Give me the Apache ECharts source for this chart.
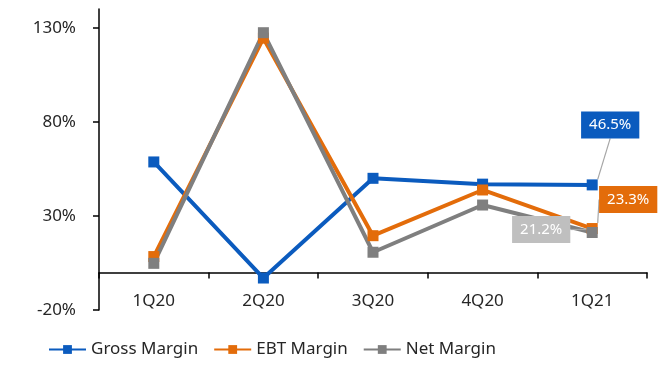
<!DOCTYPE html>
<html><head><meta charset="utf-8">
<script src="https://cdn.jsdelivr.net/npm/echarts@6/dist/echarts.min.js"></script>
<style>html,body{margin:0;padding:0;background:#fff}#c{width:661px;height:386px}</style>
</head><body><div id="c"></div>
<script>
const categories = ['1Q20','2Q20','3Q20','4Q20','1Q21'];
const grossMargin = [58.7, -3.0, 50.0, 46.9, 46.5];
const ebtMargin = [8.4, 124.5, 19.5, 43.8, 23.3];
const netMargin = [4.8, 127.4, 10.7, 35.8, 21.2];
const yTicks = [-20, 30, 80, 130];

const FONT = 'Noto Sans';
const blue = '#0B5BBE', orange = '#E36C0A', gray = '#7F7F7F';

function mkData(arr){
  return arr.map((v,i)=> i===arr.length-1 ? {value:v, label:{show:true}} : v);
}
function mkSeries(name, arr, color, labelBg, dx, dy){
  return {
    name, type:'line', data: mkData(arr),
    symbol:'rect', symbolSize: 11,
    lineStyle:{width:4, color},
    itemStyle:{color},
    label:{show:false, position:'inside', formatter: p => p.value.toFixed(1)+'%',
      backgroundColor: labelBg, color:'#fff', fontFamily:FONT, fontSize:15,
      padding:[5,8,4,8], lineHeight:18},
    labelLine:{show:true, lineStyle:{color:'#A6A6A6', width:1.2}},
    labelLayout: p => p.dataIndex === arr.length-1 ? {dx, dy} : {},
    emphasis:{disabled:true}, animation:false
  };
}

const chart = echarts.init(document.getElementById('c'));
chart.setOption({
  animation:false,
  grid:{left:99, right:14, top:9, bottom:76, containLabel:false},
  legend:{
    left:43, top:336, itemWidth:37, itemHeight:11, itemGap:15,
    textStyle:{fontFamily:FONT, fontSize:17, color:'#262626'},
    data:['Gross Margin','EBT Margin','Net Margin']
  },
  xAxis:{
    type:'category', data:categories, boundaryGap:true,
    axisLine:{onZero:true, lineStyle:{color:'#000', width:1.5}},
    axisTick:{show:true, length:6, lineStyle:{color:'#000', width:1.5}},
    axisLabel:{fontFamily:FONT, fontSize:17, color:'#262626', margin:-17}
  },
  yAxis:{
    type:'value', min:-20, max:140,
    splitLine:{show:false},
    axisLine:{show:true, onZero:false, lineStyle:{color:'#000', width:1.5}},
    axisTick:{show:true, length:6, customValues:yTicks, lineStyle:{color:'#000', width:1.5}},
    axisLabel:{customValues:yTicks, formatter: v => v+'%', fontFamily:FONT, fontSize:17, color:'#262626', margin:23}
  },
  series:[
    mkSeries('Gross Margin', grossMargin, blue, blue, 18, -60),
    mkSeries('EBT Margin', ebtMargin, orange, orange, 36, -29),
    mkSeries('Net Margin', netMargin, gray, '#BFBFBF', -51, -3)
  ]
});
</script></body></html>
